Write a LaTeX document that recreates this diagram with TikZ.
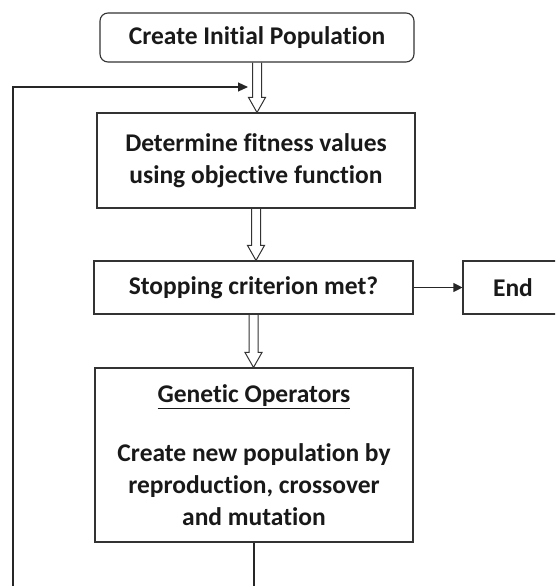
\documentclass[tikz,border=0pt]{standalone}
\usepackage{fontspec}
\setmainfont{Carlito}[Ligatures=NoCommon]
\usetikzlibrary{arrows.meta,calc}

\tikzset{
  stagebox/.style={rectangle, draw=black!80, line width=1.1pt, align=center,
    text=black!90, inner sep=0pt, font=\bfseries\fontsize{25.5}{32}\selectfont},
  hollow/.style={draw=black!80, line width=1pt},
  loopline/.style={draw=black!85, line width=1.1pt, -{Triangle[length=10pt,width=9pt]}}
}
\newcommand{\hollowdown}[2]{%
  \draw[hollow] let \p1=(#1.south), \p2=(#2.north) in
    (\x1-4.5pt,\y1) -- (\x1-4.5pt,\y2+15pt) -- (\x1-8.5pt,\y2+15pt) -- (\x1,\y2)
    -- (\x1+8.5pt,\y2+15pt) -- (\x1+4.5pt,\y2+15pt) -- (\x1+4.5pt,\y1);}

\begin{document}
\begin{tikzpicture}[x=1pt, y=-1pt]
\useasboundingbox (0,0) rectangle (555,586);
\clip (0,0) rectangle (555,586);

\node (init) at (257,37.5) [stagebox, rounded corners=8pt, minimum width=314pt, minimum height=49pt] {Create Initial Population};
\node (fit) at (256,160.5) [stagebox, minimum width=318pt, minimum height=95pt] {Determine fitness values\\using objective function};
\node (stop) at (253.5,287.5) [stagebox, minimum width=319pt, minimum height=53pt] {Stopping criterion met?};
\node (fin) at (513,287.5) [stagebox, minimum width=100pt, minimum height=53pt] {End};
\node (gen) at (254,455) [stagebox, minimum width=318pt, minimum height=174pt] {\underline{Genetic Operators}\\[27pt]Create new population by\\reproduction, crossover\\and mutation};

\hollowdown{init}{fit}
\hollowdown{fit}{stop}
\hollowdown{stop}{gen}

\draw[draw=black!85, line width=1.1pt, -{Triangle[length=9pt,width=9pt]}] (stop) -- (fin);

% way back to the fitness step
\coordinate (lc) at (13,600);
\coordinate (uc) at (13,87);
\coordinate (back) at (248,87);
\draw[loopline] (gen.south) |- (lc) -- (uc) -- (back);
\end{tikzpicture}
\end{document}
